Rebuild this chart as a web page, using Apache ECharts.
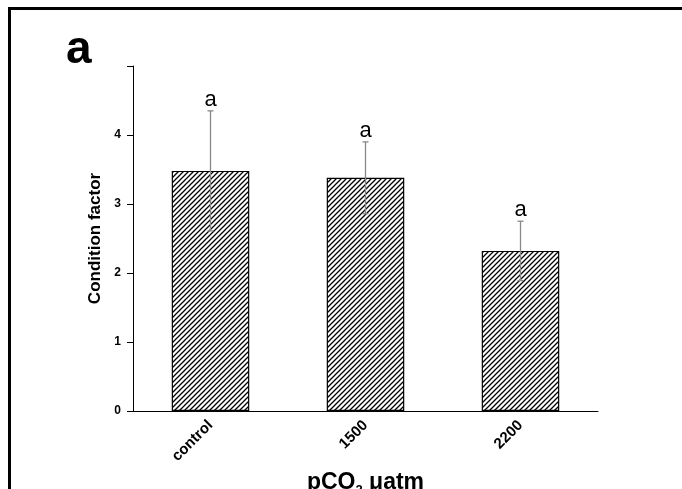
<!DOCTYPE html>
<html>
<head>
<meta charset="utf-8">
<script src="https://cdn.jsdelivr.net/npm/echarts@6/dist/echarts.min.js"></script>
<style>
  html, body { margin: 0; padding: 0; background: #fff; }
  #main { width: 682px; height: 489px; }
</style>
</head>
<body>
<div id="main"></div>
<script>
// data
var categories = ['control', '1500', '2200'];
var means = [3.48, 3.38, 2.32];
var errors = [0.87, 0.52, 0.43];
var letters = ['a', 'a', 'a'];

var FONT = 'Arial, "Liberation Sans", sans-serif';

// diagonal hatch pattern for the bars
function hatch() {
  var c = document.createElement('canvas');
  c.width = 5; c.height = 5;
  var g = c.getContext('2d');
  g.fillStyle = '#fff';
  g.fillRect(0, 0, 5, 5);
  g.strokeStyle = '#000';
  g.lineWidth = 1.3;
  g.beginPath();
  g.moveTo(-1, 6); g.lineTo(6, -1);
  g.moveTo(-1, 1); g.lineTo(1, -1);
  g.moveTo(4, 6); g.lineTo(6, 4);
  g.stroke();
  return c;
}

var errData = categories.map(function (c, i) {
  return [i, means[i] - errors[i], means[i] + errors[i], letters[i]];
});

var chart = echarts.init(document.getElementById('main'));
var option = {
  backgroundColor: '#fff',
  animation: false,
  grid: { left: 133, right: 84, top: 66, bottom: 78, outerBoundsMode: 'none', containLabel: false },
  xAxis: {
    type: 'category',
    data: categories,
    name: '{b|pCO}{s|2}{b| μatm}',
    nameLocation: 'middle',
    nameGap: 49,
    nameTextStyle: {
      rich: {
        b: { fontSize: 23, fontWeight: 'bold', fontFamily: FONT, color: '#000' },
        s: { fontSize: 13, fontWeight: 'bold', fontFamily: FONT, color: '#000', padding: [16, 0, 0, 0] }
      }
    },
    axisLine: { lineStyle: { color: '#000', width: 1 } },
    axisTick: { alignWithLabel: true, length: 7, lineStyle: { color: '#000' } },
    axisLabel: { rotate: 45, margin: 12, fontSize: 15, fontWeight: 'bold', fontFamily: FONT, color: '#000' }
  },
  yAxis: {
    type: 'value',
    min: 0, max: 5, interval: 1,
    name: 'Condition factor',
    nameLocation: 'middle',
    nameGap: 26,
    nameTextStyle: { fontSize: 17, fontWeight: 'bold', fontFamily: FONT, color: '#000' },
    splitLine: { show: false },
    axisLine: { show: true, lineStyle: { color: '#000', width: 1 } },
    axisTick: { show: true, length: 6, lineStyle: { color: '#000' } },
    axisLabel: {
      fontSize: 12, fontWeight: 'bold', fontFamily: FONT, color: '#000', margin: 12,
      formatter: function (v) { return v === 5 ? '' : String(v); }
    }
  },
  series: [
    {
      type: 'bar',
      data: means,
      barWidth: '50%',
      itemStyle: {
        color: { image: hatch(), repeat: 'repeat' },
        borderColor: '#000',
        borderWidth: 1.2
      }
    },
    {
      type: 'custom',
      data: errData,
      z: 5,
      renderItem: function (params, api) {
        var x = api.value(0);
        var lo = api.coord([x, api.value(1)]);
        var hi = api.coord([x, api.value(2)]);
        var cap = 3;
        return {
          type: 'group',
          children: [
            { type: 'line', shape: { x1: hi[0], y1: hi[1], x2: lo[0], y2: lo[1] },
              style: { stroke: '#888', lineWidth: 1.3 } },
            { type: 'line', shape: { x1: hi[0] - cap, y1: hi[1], x2: hi[0] + cap, y2: hi[1] },
              style: { stroke: '#888', lineWidth: 1.3 } },
            { type: 'line', shape: { x1: lo[0] - cap, y1: lo[1], x2: lo[0] + cap, y2: lo[1] },
              style: { stroke: '#888', lineWidth: 1.3 } },
            { type: 'text', x: hi[0], y: hi[1],
              style: { text: api.value(3), fill: '#000', font: '22px ' + FONT,
                       textAlign: 'center', textVerticalAlign: 'bottom' } }
          ]
        };
      }
    }
  ],
  graphic: [
    { type: 'line', shape: { x1: 9, y1: 8.5, x2: 682, y2: 8.5 }, style: { stroke: '#000', lineWidth: 3 } },
    { type: 'line', shape: { x1: 9.5, y1: 7, x2: 9.5, y2: 489 }, style: { stroke: '#000', lineWidth: 3 } },
    { type: 'text', left: 66, top: 27,
      style: { text: 'a', fill: '#000', font: 'bold 46px ' + FONT } }
  ]
};
chart.setOption(option);
</script>
</body>
</html>
